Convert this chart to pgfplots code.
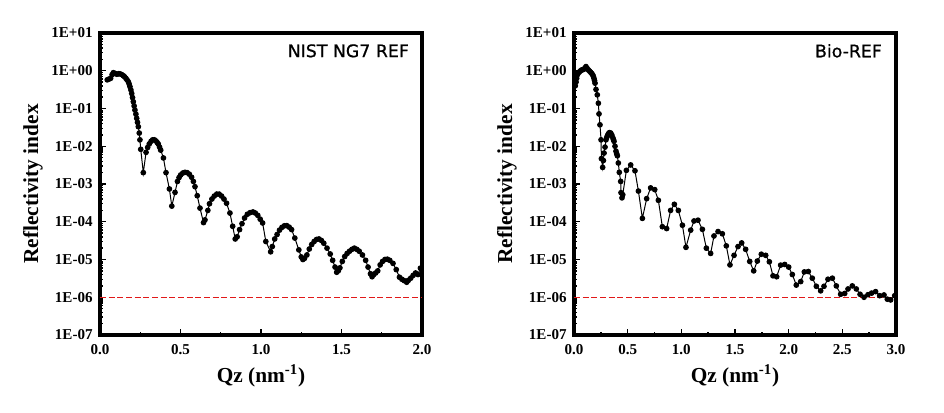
\documentclass[border=0pt]{standalone}
\usepackage{pgfplots}
\pgfplotsset{compat=1.18}
\usepackage{fontspec}
\setmainfont{Liberation Serif}
\newfontfamily\annfont[FakeBold=0.8]{DejaVu Sans}
\definecolor{refred}{RGB}{225,25,25}

\pgfplotsset{
  reflaxis/.style={
    scale only axis,
    width=241.5pt, height=226.5pt,
    ymin=1e-7, ymax=1e1,
    xmin=0,
    axis line style={line width=2.4pt},
    every outer x axis line/.append style={line width=2.4pt},
    every outer y axis line/.append style={line width=2.4pt},
    tick align=inside,
    xtick pos=bottom, ytick pos=left,
    major tick length=4.5pt, minor tick length=2.5pt,
    every tick/.style={black, line width=1.1pt},
    ytick={1e-7,1e-6,1e-5,1e-4,1e-3,1e-2,1e-1,1e0,1e1},
    yticklabels={1E-07,1E-06,1E-05,1E-04,1E-03,1E-02,1E-01,1E+00,1E+01},
    minor ytick={2e-7,3e-7,4e-7,5e-7,6e-7,7e-7,8e-7,9e-7,
                 2e-6,3e-6,4e-6,5e-6,6e-6,7e-6,8e-6,9e-6,
                 2e-5,3e-5,4e-5,5e-5,6e-5,7e-5,8e-5,9e-5,
                 2e-4,3e-4,4e-4,5e-4,6e-4,7e-4,8e-4,9e-4,
                 2e-3,3e-3,4e-3,5e-3,6e-3,7e-3,8e-3,9e-3,
                 2e-2,3e-2,4e-2,5e-2,6e-2,7e-2,8e-2,9e-2,
                 2e-1,3e-1,4e-1,5e-1,6e-1,7e-1,8e-1,9e-1,
                 2,3,4,5,6,7,8,9},
    tick label style={font=\fontsize{11.3}{13}\selectfont\bfseries},
    yticklabel style={xshift=-2pt},
    xticklabel style={yshift=-3.5pt},
    xlabel={Qz (nm\textsuperscript{-1})},
    ylabel={Reflectivity index},
    label style={font=\fontsize{16}{18}\selectfont\bfseries},
    xlabel style={at={(axis description cs:0.5,-0.136)}, anchor=center},
    ylabel style={at={(axis description cs:-0.208,0.5)}, anchor=center},
  }
}

\begin{document}
\begin{tikzpicture}

% NIST NG7 REF
\begin{semilogyaxis}[reflaxis, at={(75pt,57.75pt)}, anchor=south west,
  xmax=2,
  xtick={0,0.5,1,1.5,2}, xticklabels={0.0,0.5,1.0,1.5,2.0},
  minor xtick={0.25,0.75,1.25,1.75}]
\addplot[color=refred, line width=1.1pt, dash pattern=on 4.5pt off 2pt]
  coordinates {(0,1e-6) (2,1e-6)};
\addplot[color=black, line width=0.75pt, mark=*, mark size=1.75pt] coordinates {
(0.045,0.575) (0.055,0.60) (0.066,0.63) (0.075,0.79) (0.083,0.89)
(0.094,0.85) (0.104,0.81) (0.114,0.83) (0.124,0.83) (0.135,0.79)
(0.145,0.74) (0.153,0.69) (0.161,0.63) (0.168,0.575) (0.176,0.51)
(0.181,0.447) (0.186,0.38) (0.192,0.31) (0.197,0.25) (0.202,0.195)
(0.207,0.151) (0.212,0.117) (0.217,0.091) (0.223,0.071) (0.228,0.055)
(0.233,0.043) (0.238,0.033) (0.244,0.0224) (0.248,0.0148) (0.253,0.0083)
(0.269,0.0020) (0.286,0.0069) (0.296,0.0093) (0.306,0.0115) (0.317,0.0135)
(0.327,0.0148) (0.338,0.0148) (0.348,0.0138) (0.355,0.0126) (0.362,0.0115)
(0.370,0.0095) (0.377,0.0079) (0.394,0.0049) (0.410,0.0020) (0.431,7.4e-4)
(0.446,2.6e-4) (0.466,6.0e-4) (0.481,1.17e-3) (0.491,1.48e-3) (0.501,1.74e-3)
(0.514,1.95e-3) (0.528,2.04e-3) (0.541,2.0e-3) (0.555,1.82e-3) (0.569,1.51e-3)
(0.580,1.17e-3) (0.590,8.5e-4) (0.604,4.9e-4) (0.621,2.3e-4) (0.643,9.5e-5)
(0.652,1.12e-4) (0.670,2.0e-4) (0.680,3.0e-4) (0.695,4.0e-4) (0.710,4.8e-4)
(0.725,5.4e-4) (0.740,5.4e-4) (0.755,4.8e-4) (0.770,4.0e-4) (0.786,3.1e-4)
(0.807,1.7e-4) (0.824,7.6e-5) (0.840,3.5e-5) (0.852,4.0e-5) (0.867,6.2e-5)
(0.882,8.9e-5) (0.898,1.26e-4) (0.915,1.58e-4) (0.932,1.74e-4) (0.950,1.82e-4)
(0.965,1.7e-4) (0.980,1.48e-4) (0.995,1.17e-4) (1.010,9.3e-5) (1.030,3.0e-5)
(1.060,1.6e-5) (1.070,2.2e-5) (1.085,3.5e-5) (1.100,4.6e-5) (1.115,6.0e-5)
(1.130,7.1e-5) (1.145,7.8e-5) (1.160,7.9e-5) (1.175,7.2e-5) (1.190,6.2e-5)
(1.210,3.7e-5) (1.235,1.8e-5) (1.250,1.17e-5) (1.260,1.0e-5) (1.270,1.07e-5)
(1.285,1.32e-5) (1.300,1.9e-5) (1.315,2.5e-5) (1.330,3.0e-5) (1.345,3.4e-5)
(1.360,3.5e-5) (1.375,3.2e-5) (1.390,2.7e-5) (1.410,2.0e-5) (1.430,1.4e-5)
(1.445,9.5e-6) (1.460,6.3e-6) (1.470,4.6e-6) (1.480,5.0e-6) (1.490,6.0e-6)
(1.505,8.9e-6) (1.520,1.2e-5) (1.535,1.45e-5) (1.550,1.66e-5) (1.565,1.86e-5)
(1.580,2.0e-5) (1.595,1.86e-5) (1.610,1.66e-5) (1.630,1.32e-5) (1.650,9.5e-6)
(1.665,6.3e-6) (1.680,4.2e-6) (1.690,3.5e-6) (1.700,4.0e-6) (1.712,4.4e-6)
(1.725,5.0e-6) (1.740,7.2e-6) (1.755,8.9e-6) (1.770,1.0e-5) (1.785,1.02e-5)
(1.800,9.5e-6) (1.820,7.9e-6) (1.840,5.4e-6) (1.860,3.4e-6) (1.875,3.0e-6)
(1.890,2.75e-6) (1.905,2.5e-6) (1.915,2.8e-6) (1.930,3.2e-6) (1.945,3.8e-6)
(1.960,4.4e-6) (1.975,4.0e-6) (1.990,5.9e-6)
};
\node[anchor=east, inner sep=0pt, font=\annfont\fontsize{13}{15}\selectfont]
  at (rel axis cs:0.96,0.941) {NIST NG7 REF};
\end{semilogyaxis}

% Bio-REF
\begin{semilogyaxis}[reflaxis, at={(430.5pt,57.75pt)}, anchor=south west,
  xmax=3,
  xtick={0,0.5,1,1.5,2,2.5,3}, xticklabels={0.0,0.5,1.0,1.5,2.0,2.5,3.0},
  minor xtick={0.25,0.75,1.25,1.75,2.25,2.75}]
\addplot[color=refred, line width=1.1pt, dash pattern=on 4.5pt off 2pt]
  coordinates {(0,1e-6) (3,1e-6)};
\addplot[color=black, line width=0.75pt, mark=*, mark size=1.75pt] coordinates {
(0.012,0.40) (0.019,0.50) (0.025,0.63) (0.031,0.78) (0.040,0.87)
(0.050,0.93) (0.061,1.0) (0.072,1.05) (0.083,1.07) (0.093,1.10)
(0.103,1.2) (0.112,1.29) (0.123,1.15) (0.134,1.05) (0.145,0.98)
(0.155,0.91) (0.165,0.85) (0.174,0.78) (0.180,0.71) (0.186,0.63)
(0.191,0.55) (0.196,0.47) (0.205,0.32) (0.217,0.23) (0.227,0.138)
(0.233,0.072) (0.242,0.037) (0.252,0.0148) (0.255,0.0047) (0.267,0.00275)
(0.274,0.0042) (0.280,0.0066) (0.289,0.0095) (0.298,0.0148) (0.305,0.017)
(0.311,0.019) (0.320,0.0214) (0.330,0.023) (0.342,0.0224) (0.352,0.020)
(0.361,0.017) (0.367,0.0151) (0.373,0.0135) (0.382,0.010) (0.391,0.0074)
(0.398,0.0063) (0.404,0.0056) (0.413,0.0036) (0.422,0.00204) (0.435,0.00117)
(0.438,5.9e-4) (0.447,4.3e-4) (0.454,5.2e-4) (0.488,2.3e-3) (0.528,3.2e-3)
(0.568,2.24e-3) (0.600,6.5e-4) (0.637,1.23e-4) (0.677,4.1e-4) (0.714,7.9e-4)
(0.752,7.1e-4) (0.786,3.7e-4) (0.823,7.4e-5) (0.863,6.6e-5) (0.900,2.0e-4)
(0.935,2.9e-4) (0.972,2.0e-4) (1.010,8.1e-5) (1.043,2.1e-5) (1.087,6.0e-5)
(1.118,1.05e-4) (1.155,1.1e-4) (1.196,6.3e-5) (1.233,2.0e-5) (1.273,1.45e-5)
(1.304,4.2e-5) (1.342,5.5e-5) (1.382,4.8e-5) (1.419,2.3e-5) (1.453,7.2e-6)
(1.491,1.29e-5) (1.528,2.2e-5) (1.562,2.75e-5) (1.599,1.86e-5) (1.637,8.9e-6)
(1.674,5.0e-6) (1.708,9.1e-6) (1.745,1.38e-5) (1.786,1.29e-5) (1.820,8.7e-6)
(1.854,3.7e-6) (1.888,3.5e-6) (1.925,7.1e-6) (1.963,7.4e-6) (2.000,6.3e-6)
(2.034,4.0e-6) (2.071,2.1e-6) (2.112,2.6e-6) (2.146,4.7e-6) (2.183,4.8e-6)
(2.220,3.2e-6) (2.258,1.95e-6) (2.298,1.48e-6) (2.329,1.95e-6) (2.366,3.0e-6)
(2.407,3.2e-6) (2.444,2.0e-6) (2.484,1.2e-6) (2.522,1.26e-6) (2.553,1.66e-6)
(2.593,2.0e-6) (2.630,1.66e-6) (2.665,1.2e-6) (2.702,1.0e-6) (2.739,1.17e-6)
(2.773,1.29e-6) (2.810,1.41e-6) (2.848,1.1e-6) (2.888,1.15e-6) (2.919,8.9e-7)
(2.950,8.5e-7) (2.988,1.1e-6)
};
\node[anchor=east, inner sep=0pt, font=\annfont\fontsize{13}{15}\selectfont]
  at (rel axis cs:0.957,0.941) {Bio-REF};
\end{semilogyaxis}

\pgfresetboundingbox
\path[use as bounding box] (0,0) rectangle (708pt,309pt);
\end{tikzpicture}
\end{document}
